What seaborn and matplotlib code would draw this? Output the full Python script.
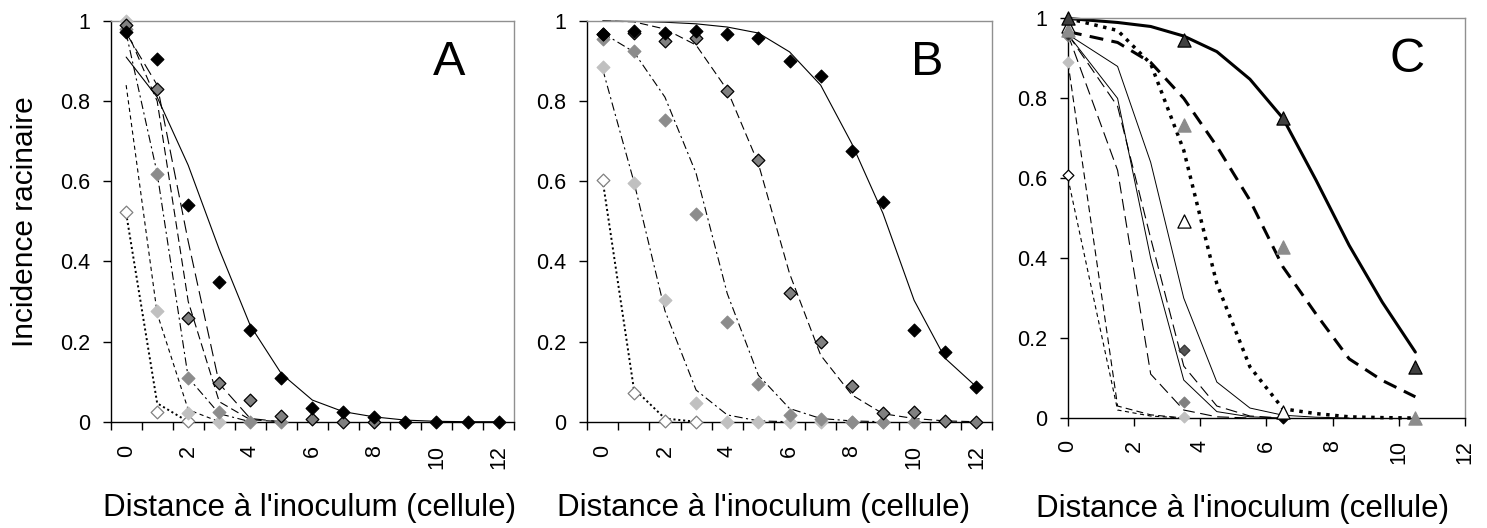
import matplotlib
matplotlib.use("Agg")
import matplotlib.pyplot as plt
import seaborn as sns

sns.set_style("white")
plt.rcParams['font.family'] = ['Liberation Sans', 'DejaVu Sans']
plt.rcParams['lines.scale_dashes'] = False
plt.rcParams['text.color'] = 'black'
plt.rcParams['axes.labelcolor'] = 'black'
plt.rcParams['xtick.color'] = 'black'
plt.rcParams['ytick.color'] = 'black'

# categories (cell distance) for panels A and B
cells = list(range(13))
even_cells = [0, 2, 4, 6, 8, 10, 12]

# panel A - observed incidence
a_black = [0.973, 0.905, 0.540, 0.349, 0.229, 0.110, 0.035, 0.023, 0.012, 0, 0, 0, 0]
a_dark = [0.99, 0.831, 0.258, 0.097, 0.054, 0.015, 0.008, 0, 0]
a_mid = [0.98, 0.619, 0.108, 0.023, 0, 0]
a_light = [1.0, 0.277, 0.021, 0]
a_open = [0.523, 0.023, 0.002]
# panel A - model curves
a_fit_1 = [0.91, 0.81, 0.64, 0.43, 0.24, 0.12, 0.054, 0.025, 0.012, 0.004, 0.001, 0, 0]
a_fit_2 = [0.97, 0.84, 0.45, 0.095, 0.008, 0]
a_fit_3 = [0.98, 0.80, 0.30, 0.05, 0.005, 0]
a_fit_4 = [0.97, 0.62, 0.11, 0.02, 0]
a_fit_5 = [0.84, 0.27, 0.03, 0]
a_fit_6 = [0.52, 0.046, 0]

# panel B - observed incidence
b_black = [0.967, 0.975, 0.971, 0.975, 0.967, 0.958, 0.899, 0.862, 0.676, 0.549, 0.229, 0.175, 0.086]
b_dark = [0.967, 0.971, 0.950, 0.958, 0.825, 0.653, 0.322, 0.198, 0.090, 0.021, 0.023, 0.002, 0]
b_mid = [0.954, 0.925, 0.754, 0.518, 0.249, 0.094, 0.017, 0.006, 0, 0, 0]
b_light = [0.885, 0.596, 0.303, 0.046, 0, 0, 0, 0, 0, 0]
b_open = [0.604, 0.071, 0.002, 0]
# panel B - model curves
b_fit_black = [1.0, 0.999, 0.997, 0.993, 0.985, 0.97, 0.923, 0.84, 0.694, 0.52, 0.303, 0.158, 0.087]
b_fit_dark = [1.0, 0.998, 0.98, 0.94, 0.828, 0.644, 0.37, 0.166, 0.067, 0.02, 0.008, 0.002, 0]
b_fit_mid = [0.97, 0.923, 0.81, 0.62, 0.32, 0.116, 0.033, 0.008, 0.002, 0]
b_fit_light = [0.88, 0.60, 0.277, 0.079, 0.017, 0.002, 0]
b_fit_open = [0.603, 0.083, 0.008, 0]

# panel C - observation distances and model grid
c_obs_x = [0, 3.5, 6.5, 10.5]
c_grid = [0, 1.5, 2.5, 3.5, 4.5, 5.5, 6.5, 7.5, 8.5, 9.5, 10.5]
c_tri_dark = [1.0, 0.947, 0.75, 0.128]
c_tri_mid = [0.97, 0.733, 0.427, 0]
c_tri_open = [0.98, 0.492, 0.015]
c_dia_black_x = [0, 6.5]
c_dia_black = [0.967, 0]
c_dia_dark_x = [0, 3.5]
c_dia_dark = [0.96, 0.171]
c_dia_grey_x = [0, 3.5]
c_dia_grey = [0.955, 0.04]
c_dia_light_x = [0, 3.5]
c_dia_light = [0.89, 0.002]
c_dia_open_x = [0]
c_dia_open = [0.607]
# panel C - model curves
c_fit_thick_solid = [1.0, 0.99, 0.98, 0.956, 0.917, 0.848, 0.75, 0.595, 0.432, 0.29, 0.165]
c_fit_thick_dash = [0.967, 0.94, 0.89, 0.80, 0.68, 0.545, 0.378, 0.26, 0.148, 0.094, 0.053]
c_fit_thick_dot = [1.0, 0.97, 0.887, 0.67, 0.336, 0.128, 0.023, 0.011, 0.003, 0.001, 0]
c_fit_t1 = [0.60, 0.02, 0.005, 0]
c_fit_t2 = [0.89, 0.03, 0.008, 0]
c_fit_t3 = [0.96, 0.62, 0.11, 0.02, 0.003, 0]
c_fit_t4 = [0.96, 0.78, 0.45, 0.13, 0.03, 0.005, 0]
c_fit_t5 = [0.96, 0.80, 0.40, 0.095, 0.016, 0.003, 0]
c_fit_t6 = [0.96, 0.88, 0.64, 0.30, 0.09, 0.025, 0.007, 0.002, 0]

y_ticks = [0, 0.2, 0.4, 0.6, 0.8, 1]
y_labels = ['0', '0.2', '0.4', '0.6', '0.8', '1']
x_title = "Distance à l'inoculum (cellule)"
y_title = "Incidence racinaire"

LS_SOLID = '-'
LS_DASH = (0, (6, 3))
LS_LONGDASH = (0, (9, 4))
LS_DASHDOT = (0, (6, 2.5, 1.5, 2.5))
LS_FINEDASH = (0, (3, 2.5))
LS_DOT = (0, (1.5, 2))


def curve(ax, y, ls, lw=0.8, x=None):
    if x is None:
        x = cells[:len(y)]
    else:
        x = x[:len(y)]
    sns.lineplot(x=x, y=y, ax=ax, color='black', linewidth=lw, linestyle=ls,
                 estimator=None, clip_on=False, zorder=2)


def points(ax, y, fill, edge, marker='D', size=42, x=None):
    if x is None:
        x = cells[:len(y)]
    sns.scatterplot(x=x, y=y, ax=ax, marker=marker, s=size, color=fill,
                    edgecolor=edge, linewidth=0.9, clip_on=False, zorder=3, legend=False)


fig = plt.figure(figsize=(14.87, 5.28), dpi=100)
axA = fig.add_axes([0.0744, 0.2013, 0.2713, 0.7589])
axB = fig.add_axes([0.3948, 0.2013, 0.2723, 0.7589])
axC = fig.add_axes([0.7182, 0.2083, 0.2670, 0.7567])

# ---- panel A
curve(axA, a_fit_1, LS_SOLID)
curve(axA, a_fit_2, LS_LONGDASH)
curve(axA, a_fit_3, LS_DASH)
curve(axA, a_fit_4, LS_DASHDOT)
curve(axA, a_fit_5, LS_FINEDASH)
curve(axA, a_fit_6, LS_DOT, lw=1.4)
points(axA, a_open, 'white', '#808080')
points(axA, a_light, '#c0c0c0', '#c0c0c0')
points(axA, a_mid, '#8c8c8c', '#8c8c8c')
points(axA, a_dark, '#808080', '#000000')
points(axA, a_black, '#000000', '#000000')

# ---- panel B
curve(axB, b_fit_black, LS_SOLID)
curve(axB, b_fit_dark, LS_DASH)
curve(axB, b_fit_mid, LS_DASHDOT)
curve(axB, b_fit_light, LS_DASHDOT)
curve(axB, b_fit_open, LS_DOT, lw=1.4)
points(axB, b_open, 'white', '#808080')
points(axB, b_light, '#c0c0c0', '#c0c0c0')
points(axB, b_mid, '#8c8c8c', '#8c8c8c')
points(axB, b_dark, '#808080', '#000000')
points(axB, b_black, '#000000', '#000000')

# ---- panel C
curve(axC, c_fit_t1, LS_FINEDASH, x=c_grid)
curve(axC, c_fit_t2, (0, (5, 3)), x=c_grid)
curve(axC, c_fit_t3, (0, (8.5, 4)), x=c_grid)
curve(axC, c_fit_t4, (0, (8.5, 4)), x=c_grid)
curve(axC, c_fit_t5, LS_SOLID, lw=0.7, x=c_grid)
curve(axC, c_fit_t6, LS_SOLID, lw=0.7, x=c_grid)
curve(axC, c_fit_thick_solid, LS_SOLID, lw=2.2, x=c_grid)
curve(axC, c_fit_thick_dash, (0, (10, 6)), lw=2.2, x=c_grid)
curve(axC, c_fit_thick_dot, (0, (2.5, 4)), lw=2.5, x=c_grid)
points(axC, c_dia_open, 'white', '#000000', x=c_dia_open_x, size=30)
points(axC, c_dia_light, '#c0c0c0', '#c0c0c0', x=c_dia_light_x, size=30)
points(axC, c_dia_grey, '#808080', '#808080', x=c_dia_grey_x, size=30)
points(axC, c_dia_dark, '#555555', '#333333', x=c_dia_dark_x, size=30)
points(axC, c_dia_black, '#000000', '#000000', x=c_dia_black_x, size=30)
points(axC, c_tri_open, 'white', '#000000', marker='^', size=90, x=c_obs_x[:3])
points(axC, c_tri_mid, '#8c8c8c', '#8c8c8c', marker='^', size=90, x=c_obs_x)
points(axC, c_tri_dark, '#404040', '#000000', marker='^', size=90, x=c_obs_x)

for ax, letter, lx in [(axA, 'A', 0.839), (axB, 'B', 0.84), (axC, 'C', 0.854)]:
    ax.set_ylim(0, 1)
    ax.set_yticks(y_ticks)
    ax.set_yticklabels(y_labels)
    ax.tick_params(axis='y', which='major', direction='out', length=6, width=1,
                   pad=9, labelsize=15.5, left=True, color='black')
    for side in ['left', 'bottom']:
        ax.spines[side].set_color('black')
        ax.spines[side].set_linewidth(1)
    for side in ['top', 'right']:
        ax.spines[side].set_color('#909090')
        ax.spines[side].set_linewidth(1)
    ax.text(lx, 0.897, letter, transform=ax.transAxes, ha='center', va='center',
            fontsize=35)
    ax.set_ylabel('')

for ax in [axA, axB]:
    ax.set_xlim(-0.5, 12.5)
    ax.set_xticks(even_cells)
    ax.set_xticklabels([str(c) for c in even_cells], rotation=90)
    ax.set_xticks([c - 0.5 for c in cells] + [12.5], minor=True)
    ax.tick_params(axis='x', which='major', length=0, pad=17, labelsize=15.5)
    ax.tick_params(axis='x', which='minor', direction='out', length=6, width=1,
                   bottom=True, color='black')

axC.set_xlim(0, 12)
axC.set_xticks(even_cells)
axC.set_xticklabels([str(c) for c in even_cells], rotation=90)
axC.tick_params(axis='x', which='major', direction='out', length=6, width=1,
                pad=10, labelsize=15.5, bottom=True, color='black')

axA.set_xlabel(x_title, fontsize=22.5)
axA.xaxis.set_label_coords(0.492, -0.178)
axB.set_xlabel(x_title, fontsize=22.5)
axB.xaxis.set_label_coords(0.437, -0.178)
axC.set_xlabel(x_title, fontsize=22.5)
axC.xaxis.set_label_coords(0.441, -0.19)
axA.set_ylabel(y_title, fontsize=21.5)
axA.yaxis.set_label_coords(-0.178, 0.5)

fig.savefig('out.png', dpi=100)
